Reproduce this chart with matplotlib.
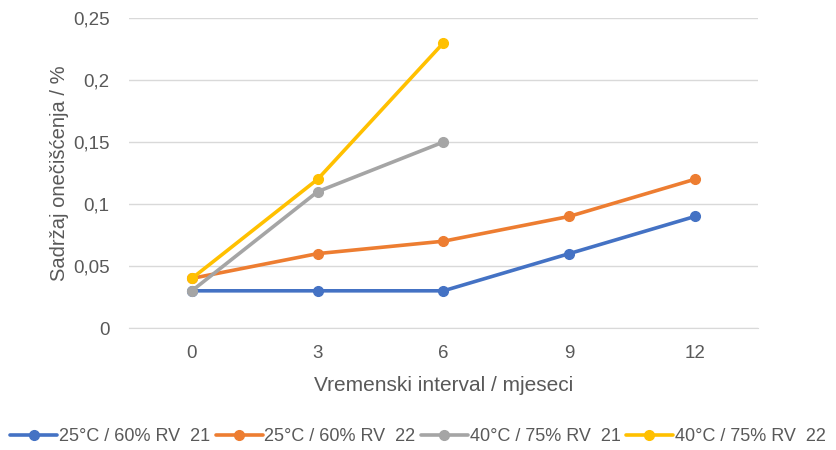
import numpy as np
import matplotlib.pyplot as plt
from matplotlib.ticker import FuncFormatter

# podaci
mjeseci = ['0', '3', '6', '9', '12']
s1 = [0.03, 0.03, 0.03, 0.06, 0.09]
s2 = [0.04, 0.06, 0.07, 0.09, 0.12]
s3 = [0.03, 0.11, 0.15]
s4 = [0.04, 0.12, 0.23]
nazivi = ['25°C / 60% RV  21', '25°C / 60% RV  22', '40°C / 75% RV  21', '40°C / 75% RV  22']
boje = ['#4472C4', '#ED7D31', '#A5A5A5', '#FFC000']

plt.rcParams['font.family'] = ['Liberation Sans', 'DejaVu Sans']
siva = '#595959'

fig = plt.figure(figsize=(8.36, 4.5), dpi=100)
ax = fig.add_axes([0.1543, 0.2711, 0.7524, 0.6889])

x = np.arange(len(mjeseci))
for vals, boja, naziv in zip([s1, s2, s3, s4], boje, nazivi):
    ax.plot(x[:len(vals)], vals, color=boja, lw=2.6, marker='o', ms=7,
            label=naziv, solid_capstyle='round')

ax.set_xlim(-0.5, len(mjeseci) - 0.5)
ax.set_ylim(0, 0.25)
ax.set_yticks(np.arange(0, 0.2501, 0.05))
ax.yaxis.set_major_formatter(FuncFormatter(lambda v, p: ('%g' % round(v, 2)).replace('.', ',')))
ax.set_xticks(x)
ax.set_xticklabels(mjeseci)
ax.grid(axis='y', color='#D9D9D9', lw=1)
ax.set_axisbelow(True)
for s in ['top', 'right', 'left']:
    ax.spines[s].set_visible(False)
ax.spines['bottom'].set_color('#D9D9D9')
ax.tick_params(axis='both', length=0, colors=siva, labelsize=13.5)
ax.tick_params(axis='y', pad=14)
ax.tick_params(axis='x', pad=12)

ax.set_xlabel('Vremenski interval / mjeseci', color=siva, fontsize=15, labelpad=10)
ax.set_ylabel('Sadržaj onečišćenja / %', color=siva, fontsize=14.5, labelpad=3)

fig.legend(loc='center', bbox_to_anchor=(0.5, 0.03), ncol=4, frameon=False,
           fontsize=13, labelcolor=siva, handlelength=2.6, handletextpad=0.1,
           columnspacing=0.3)

fig.savefig('out.png', dpi=100)
